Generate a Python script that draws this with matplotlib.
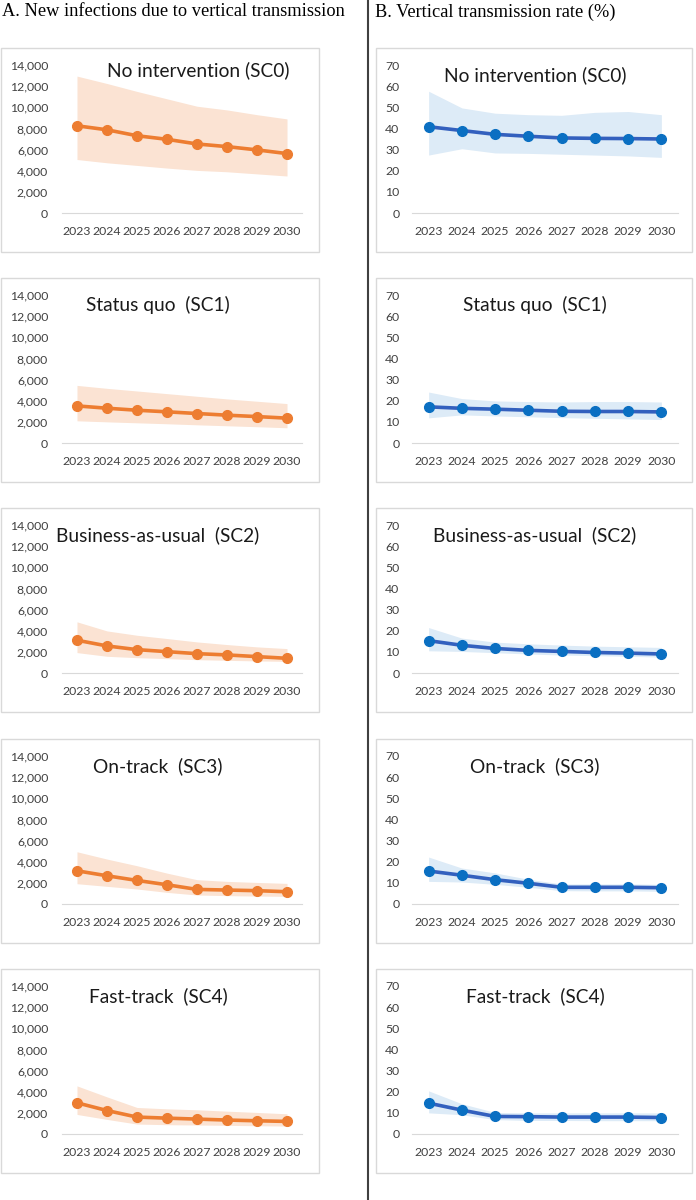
import matplotlib
matplotlib.use('Agg')
import matplotlib.pyplot as plt
from matplotlib.patches import Rectangle
from matplotlib.ticker import FuncFormatter

# data
years = ['2023', '2024', '2025', '2026', '2027', '2028', '2029', '2030']
scenarios = ['No intervention (SC0)', 'Status quo  (SC1)', 'Business-as-usual  (SC2)',
             'On-track  (SC3)', 'Fast-track  (SC4)']

# A. new infections due to vertical transmission (mid, low, high)
sc0_inf = [8250, 7870, 7310, 6970, 6530, 6280, 5970, 5620]
sc0_inf_lo = [5060, 4750, 4500, 4250, 4030, 3900, 3700, 3500]
sc0_inf_hi = [12950, 12250, 11500, 10800, 10100, 9750, 9300, 8900]
sc1_inf = [3510, 3290, 3100, 2950, 2790, 2630, 2500, 2350]
sc1_inf_lo = [2100, 2000, 1910, 1820, 1720, 1630, 1540, 1440]
sc1_inf_hi = [5450, 5170, 4920, 4670, 4420, 4170, 3950, 3730]
sc2_inf = [3100, 2560, 2210, 2020, 1830, 1710, 1550, 1390]
sc2_inf_lo = [1930, 1580, 1450, 1360, 1260, 1200, 1140, 1100]
sc2_inf_hi = [4840, 3980, 3570, 3260, 2940, 2690, 2470, 2310]
sc3_inf = [3140, 2670, 2230, 1820, 1380, 1320, 1260, 1160]
sc3_inf_lo = [1920, 1670, 1420, 1100, 850, 790, 750, 720]
sc3_inf_hi = [4940, 4250, 3620, 2920, 2300, 2140, 2040, 1950]
sc4_inf = [2950, 2220, 1600, 1500, 1410, 1320, 1250, 1190]
sc4_inf_lo = [1850, 1380, 940, 880, 850, 820, 780, 750]
sc4_inf_hi = [4550, 3510, 2510, 2380, 2290, 2160, 2040, 1910]

# B. vertical transmission rate (%) (mid, low, high)
sc0_vtr = [40.8, 39.0, 37.2, 36.3, 35.5, 35.3, 35.2, 35.0]
sc0_vtr_lo = [27.4, 30.4, 28.4, 28.2, 27.8, 27.4, 27.0, 26.3]
sc0_vtr_hi = [57.6, 49.7, 47.2, 46.5, 46.2, 47.6, 48.0, 46.5]
sc1_vtr = [17.1, 16.4, 16.0, 15.5, 15.0, 14.9, 14.9, 14.7]
sc1_vtr_lo = [11.9, 13.3, 12.8, 12.4, 12.0, 11.7, 11.4, 11.1]
sc1_vtr_hi = [24.1, 21.0, 19.9, 19.6, 19.4, 19.6, 19.6, 19.4]
sc2_vtr = [15.3, 13.1, 11.6, 10.7, 10.2, 9.7, 9.4, 9.0]
sc2_vtr_lo = [10.5, 10.2, 9.6, 9.0, 8.5, 8.2, 7.9, 7.5]
sc2_vtr_hi = [21.5, 16.5, 14.6, 13.8, 13.2, 12.7, 12.4, 12.1]
sc3_vtr = [15.6, 13.6, 11.5, 9.8, 7.9, 7.9, 7.9, 7.7]
sc3_vtr_lo = [10.7, 10.4, 9.3, 7.9, 6.3, 6.2, 6.2, 6.0]
sc3_vtr_hi = [22.2, 17.0, 14.7, 11.7, 9.5, 9.5, 9.5, 9.3]
sc4_vtr = [14.6, 11.3, 8.3, 8.2, 8.0, 8.0, 8.0, 7.8]
sc4_vtr_lo = [10.0, 9.1, 6.8, 6.4, 6.4, 6.3, 6.3, 6.3]
sc4_vtr_hi = [20.4, 14.3, 10.2, 10.0, 10.0, 10.0, 10.0, 10.0]

inf_sets = [(sc0_inf, sc0_inf_lo, sc0_inf_hi), (sc1_inf, sc1_inf_lo, sc1_inf_hi),
            (sc2_inf, sc2_inf_lo, sc2_inf_hi), (sc3_inf, sc3_inf_lo, sc3_inf_hi),
            (sc4_inf, sc4_inf_lo, sc4_inf_hi)]
vtr_sets = [(sc0_vtr, sc0_vtr_lo, sc0_vtr_hi), (sc1_vtr, sc1_vtr_lo, sc1_vtr_hi),
            (sc2_vtr, sc2_vtr_lo, sc2_vtr_hi), (sc3_vtr, sc3_vtr_lo, sc3_vtr_hi),
            (sc4_vtr, sc4_vtr_lo, sc4_vtr_hi)]

W, H = 696, 1200
fig = plt.figure(figsize=(W / 100, H / 100), dpi=100)
plt.rcParams['font.family'] = ['Lato', 'DejaVu Sans']

def fx(x):
    return x / W

def fy(y):
    return 1 - y / H

def box(left, top, right, bottom):
    fig.patches.append(Rectangle((fx(left), fy(bottom)), fx(right - left), (bottom - top) / H,
                                 transform=fig.transFigure, fill=False,
                                 edgecolor='#d9d9d9', lw=1))

def panel(left, right, top, zero, mid, lo, hi, ymax, step, fmt, line_c, mark_c, band_c, pad_y):
    ax = fig.add_axes([fx(left), fy(zero), fx(right - left), (zero - top) / H])
    x = range(len(years))
    ax.fill_between(x, lo, hi, color=band_c, lw=0)
    ax.plot(x, mid, color=line_c, lw=2.6, zorder=3)
    ax.plot(x, mid, 'o', color=mark_c, ms=7, zorder=4)
    ax.set_xlim(-0.5, len(years) - 0.5)
    ax.set_ylim(0, ymax)
    ax.set_xticks(list(x))
    ax.set_xticklabels(years)
    ax.set_yticks(range(0, ymax + 1, step))
    ax.yaxis.set_major_formatter(FuncFormatter(fmt))
    for s in ['top', 'right', 'left']:
        ax.spines[s].set_visible(False)
    ax.spines['bottom'].set_color('#d9d9d9')
    ax.patch.set_alpha(0)
    ax.tick_params(axis='x', length=0, pad=9.5, labelsize=8.8, labelcolor='#404040')
    ax.tick_params(axis='y', length=0, pad=pad_y, labelsize=8.8, labelcolor='#404040')
    return ax

box_tops = [48, 278, 508, 739, 969]
for i in range(5):
    t = box_tops[i]
    top = t + 17
    zero = t + 165
    # column A
    box(0.5, t, 319, t + 204)
    mid, lo, hi = inf_sets[i]
    panel(62, 302, top, zero, mid, lo, hi, 14000, 2000, lambda v, p: f'{int(v):,}',
          '#ED7D31', '#ED7D31', '#FBE3D3', 10)
    if i == 0:
        fig.text(fx(198), fy(t + 22), scenarios[i], ha='center', va='center', fontsize=13.8, color='#1a1a1a')
    else:
        fig.text(fx(158), fy(t + 27), scenarios[i], ha='center', va='center', fontsize=13.8, color='#1a1a1a')
    # column B
    box(376, t, 692, t + 204)
    mid, lo, hi = vtr_sets[i]
    panel(412, 678, top, zero, mid, lo, hi, 70, 10, lambda v, p: f'{int(v)}',
          '#3360BE', '#0A6FC2', '#DDEBF7', 9)
    fig.text(fx(535), fy(t + 27), scenarios[i], ha='center', va='center', fontsize=13.8, color='#1a1a1a')

# column headers and divider
fig.text(fx(2), fy(12), 'A. New infections due to vertical transmission', ha='left', va='center',
         fontsize=13.2, family='Liberation Serif', color='black')
fig.text(fx(375), fy(12), 'B. Vertical transmission rate (%)', ha='left', va='center',
         fontsize=13.2, family='Liberation Serif', color='black')
fig.add_artist(plt.Line2D([fx(368), fx(368)], [0, 1], transform=fig.transFigure,
                          color='#404040', lw=1.5))

fig.savefig('out.png', dpi=100)
